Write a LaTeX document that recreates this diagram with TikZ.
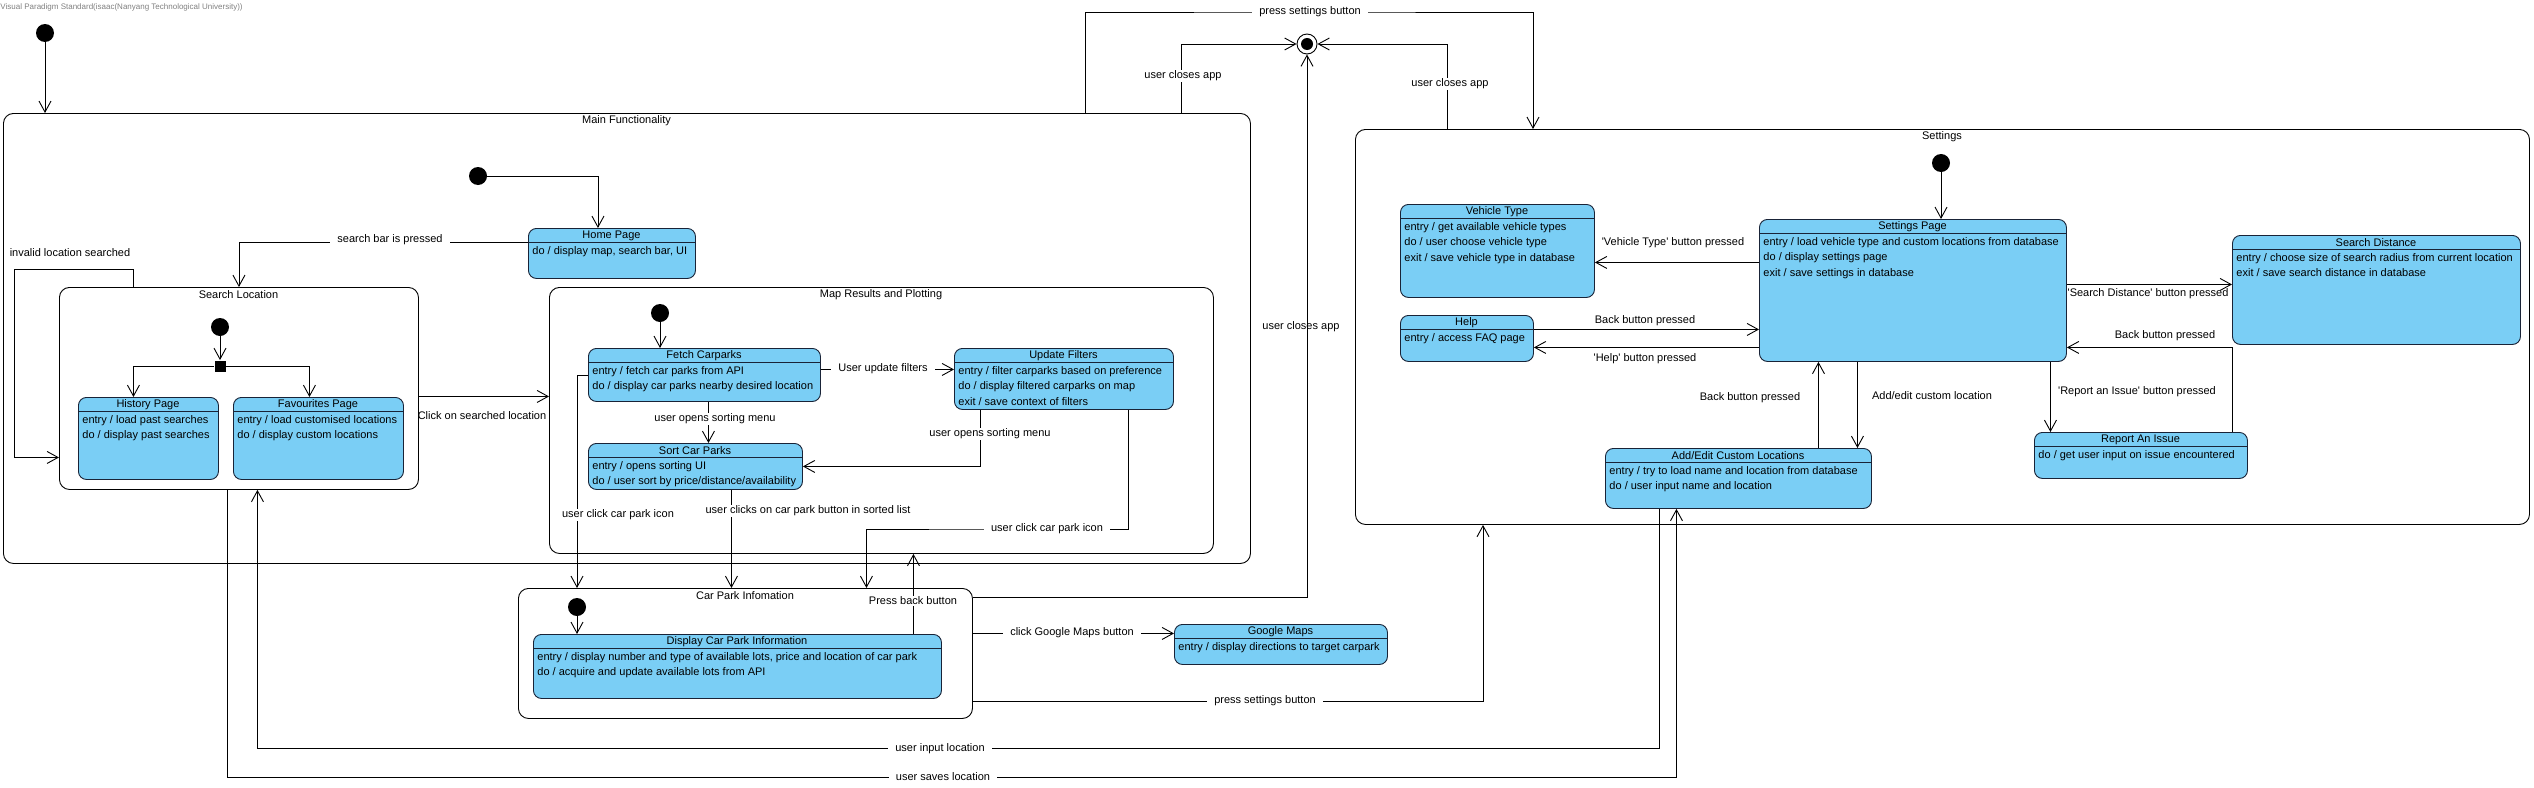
\documentclass[tikz,border=0pt]{standalone}
\usepackage{fontspec}
\setmainfont{Liberation Sans}
\usetikzlibrary{arrows.meta}

\definecolor{stfill}{RGB}{122,206,245}
\definecolor{stdraw}{RGB}{25,35,55}

% state with title and compartment
\newcommand{\statebox}[7]{%
  \node[stbox, minimum width=#4pt, minimum height=#5pt] (#1) at (#2,#3) {};
  \node[txt] at (#2+#4/2,#3+7.5) {#6};
  \draw[stdraw] (#2,#3+14) -- (#2+#4,#3+14);
  \node[txt, anchor=north west, align=left] at (#2+4,#3+18) {#7};
}
% composite state
\newcommand{\compstate}[6]{%
  \node[frame, minimum width=#4pt, minimum height=#5pt] (#1) at (#2,#3) {};
  \node[txt] at (#2+#4/2,#3+8) {#6};
}

\begin{document}
\begin{tikzpicture}[x=1pt,y=-1pt,line width=0.9pt,
  >={Straight Barb[length=11pt,width=12pt]},
  txt/.style={font=\fontsize{11}{15.3}\selectfont, inner sep=0pt},
  lbl/.style={txt},
  lblw/.style={txt, fill=white, inner xsep=7pt, inner ysep=1pt},
  stbox/.style={draw=stdraw, fill=stfill, rounded corners=8pt, anchor=north west, inner sep=0pt},
  frame/.style={draw, rounded corners=10pt, anchor=north west, inner sep=0pt},
  startdot/.style={circle, fill=black, minimum size=18pt, inner sep=0pt}]

\useasboundingbox (0,0) rectangle (2534,787);
\node[anchor=west, inner sep=0pt, text=gray, font=\fontsize{8}{9}\selectfont] (wm) at (0,7)
  {Visual Paradigm Standard(isaac(Nanyang Technological University))};

\compstate{main}{3}{113}{1247}{450}{Main Functionality}
\compstate{search}{59}{287}{359}{202}{Search Location}
\compstate{mapres}{549}{287}{664}{266}{Map Results and Plotting}
\compstate{cpinfo}{518}{588}{454}{130}{Car Park Infomation}
\compstate{settings}{1355}{129}{1174}{395}{Settings}

\statebox{home}{528}{228}{167}{50}{Home Page}{do / display map, search bar, UI}
\statebox{history}{78}{397}{140}{82}{History Page}{entry / load past searches\\do / display past searches}
\statebox{favourites}{233}{397}{170}{82}{Favourites Page}{entry / load customised locations\\do / display custom locations}
\statebox{fetch}{588}{348}{232}{53}{Fetch Carparks}{entry / fetch car parks from API\\do / display car parks nearby desired location}
\statebox{filters}{954}{348}{219}{61}{Update Filters}{entry / filter carparks based on preference\\do / display filtered carparks on map\\exit / save context of filters}
\statebox{sort}{588}{443}{214}{46}{Sort Car Parks}{entry / opens sorting UI\\do / user sort by price/distance/availability}
\statebox{display}{533}{634}{408}{64}{Display Car Park Information}{entry / display number and type of available lots, price and location of car park\\do / acquire and update available lots from API}
\statebox{gmaps}{1174}{624}{213}{40}{Google Maps}{entry / display directions to target carpark}
\statebox{vehicle}{1400}{204}{194}{93}{Vehicle Type}{entry / get available vehicle types\\do / user choose vehicle type\\exit / save vehicle type in database}
\statebox{help}{1400}{315}{133}{46}{Help}{entry / access FAQ page}
\statebox{setpage}{1759}{219}{307}{142}{Settings Page}{entry / load vehicle type and custom locations from database\\do / display settings page\\exit / save settings in database}
\statebox{distance}{2232}{235}{288}{109}{Search Distance}{entry / choose size of search radius from current location\\exit / save search distance in database}
\statebox{report}{2034}{432}{213}{46}{Report An Issue}{do / get user input on issue encountered}
\statebox{custom}{1605}{448}{266}{60}{Add/Edit Custom Locations}{entry / try to load name and location from database\\do / user input name and location}

\node[startdot] (init0) at (45,33) {};
\node[startdot] (initmain) at (478,176) {};
\node[startdot] (initsearch) at (220,327) {};
\node[startdot] (initmap) at (660,313) {};
\node[startdot] (initcp) at (577,607) {};
\node[startdot] (initset) at (1941,163) {};
\node[fill=black, minimum size=11pt, inner sep=0pt] (fork) at (220,366) {};
\node[circle, draw, fill=white, minimum size=20pt, inner sep=0pt] (final) at (1307,44) {};
\node[circle, fill=black, minimum size=12pt, inner sep=0pt] (finaldot) at (final) {};

\draw[->] (init0) -- (init0 |- main.north);
\draw[->] (initmain) -| ([xshift=-14pt]home.north);
\draw[->] ([yshift=11pt]home.west) -| (search.north);
\draw[->] ([xshift=74pt]search.north west) |- (14,269) |- ([yshift=-69pt]search.west);
\draw[->] (initsearch) -- (fork.north);
\draw[->] (fork) -| ([xshift=-15pt]history.north);
\draw[->] (fork) -| ([xshift=-9pt]favourites.north);
\draw[->] ([yshift=-8pt]search.east) -- ([yshift=-8pt]search.east -| mapres.west);
\draw[->] (initmap) -- (initmap |- fetch.north);
\draw[->] ([yshift=5.5pt]fetch.east) -- ([yshift=5.5pt]fetch.east -| filters.west);
\draw[->] ([xshift=4pt]fetch.south) -- ([xshift=4pt]fetch.south |- sort.north);
\draw[->] ([xshift=-83.5pt]filters.south) |- (sort.east);
\draw[->] (fetch.west) -| (initcp |- cpinfo.north);
\draw[->] ([xshift=36pt]sort.south) -- ([xshift=36pt]sort.south |- cpinfo.north);
\draw[->] ([xshift=64.5pt]filters.south) |- (990,529) -| ([xshift=121pt]cpinfo.north);
\draw[->] (initcp) -- (initcp |- display.north);
\draw[->] ([xshift=176pt]display.north) -- ([xshift=176pt]display.north |- mapres.south);
\draw[->] ([yshift=11pt]gmaps.west -| cpinfo.east) -- ([yshift=11pt]gmaps.west);
\draw[->] ([yshift=-48pt]cpinfo.east) -| ([xshift=128pt]settings.south west);
\draw[->] ([yshift=56pt]cpinfo.east) -| (final.south);
\draw[->] ([xshift=1178pt]main.north west) |- (final.west);
\draw[->] ([xshift=92pt]settings.north west) |- (final.east);
\draw[->] ([xshift=1082pt]main.north west) |- (1300,12) -| ([xshift=178pt]settings.north west);
\draw[->] (initset) -- (initset |- setpage.north);
\draw[->] ([yshift=-11.5pt]vehicle.east -| setpage.west) -- ([yshift=-11.5pt]vehicle.east);
\draw[->] ([yshift=9pt]help.east) -- ([yshift=9pt]help.east -| setpage.west);
\draw[->] ([yshift=-9pt]help.east -| setpage.west) -- ([yshift=-9pt]help.east);
\draw[->] ([yshift=5.5pt]distance.west -| setpage.east) -- ([yshift=5.5pt]distance.west);
\draw[->] ([xshift=91.5pt]report.north) |- ([yshift=-57pt]setpage.east);
\draw[->] ([xshift=137.5pt]setpage.south) -- ([xshift=137.5pt]setpage.south |- report.north);
\draw[->] ([xshift=80pt]custom.north) -- ([xshift=80pt]custom.north |- setpage.south);
\draw[->] ([xshift=-55.5pt]setpage.south) -- ([xshift=-55.5pt]setpage.south |- custom.north);
\draw[->] ([xshift=-79pt]custom.south) |- (900,748) -| ([xshift=18.5pt]search.south);
\draw[->] ([xshift=-11.5pt]search.south) |- (900,777) -| ([xshift=-62pt]custom.south);

% transition labels
\node[lblw] at (390,240) {search bar is pressed};
\node[lbl] at (70,253) {invalid location searched};
\node[lbl] at (482,416) {Click on searched location};
\node[lblw] at (883,369) {User update filters};
\node[lblw] at (715,419) {user opens sorting menu};
\node[lblw] at (990,434) {user opens sorting menu};
\node[lblw] at (618,515) {user click car park icon};
\node[lblw] at (808,511) {user clicks on car park button in sorted list};
\node[lblw] at (1047,529) {user click car park icon};
\node[lblw] at (913,601) {Press back button};
\node[lblw] at (1072,633) {click Google Maps button};
\node[lblw] at (1265,701) {press settings button};
\node[lbl] at (1301,327) {user closes app};
\node[lblw] at (1183,76) {user closes app};
\node[lblw] at (1450,84) {user closes app};
\node[lblw] at (1310,12) {press settings button};
\node[lbl] at (1673,243) {\textquotesingle Vehicle Type\textquotesingle{} button pressed};
\node[lbl] at (1645,321) {Back button pressed};
\node[lbl] at (1645,359) {\textquotesingle Help\textquotesingle{} button pressed};
\node[lbl] at (2148,294) {\textquotesingle Search Distance\textquotesingle{} button pressed};
\node[lbl] at (2165,336) {Back button pressed};
\node[lbl] at (2137,392) {\textquotesingle Report an Issue\textquotesingle{} button pressed};
\node[lbl] at (1750,398) {Back button pressed};
\node[lbl] at (1932,396) {Add/edit custom location};
\node[lblw] at (940,749) {user input location};
\node[lblw] at (943,777) {user saves location};

\end{tikzpicture}
\end{document}
